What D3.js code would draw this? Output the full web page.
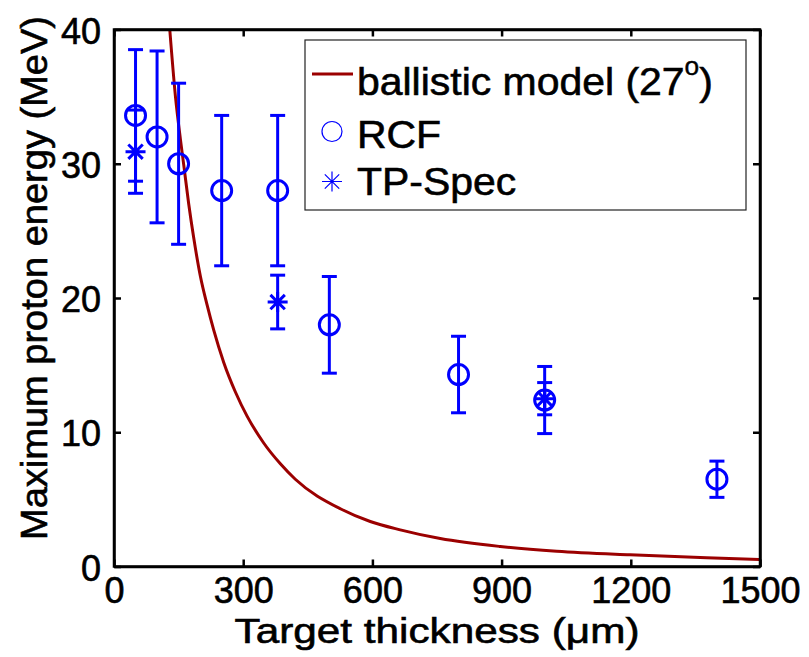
<!DOCTYPE html>
<html>
<head>
<meta charset="utf-8">
<script src="https://cdn.jsdelivr.net/npm/d3@7/dist/d3.min.js"></script>
<style>
  html, body { margin: 0; padding: 0; background: #fff; }
  svg { display: block; font-family: "Liberation Sans", Arial, Helvetica, sans-serif; }
</style>
</head>
<body>
<svg id="chart" width="809" height="657"></svg>
<script>
// ---- data ----
const xTicks = [0, 300, 600, 900, 1200, 1500];
const yTicks = [0, 10, 20, 30, 40];

// RCF measurements (circles) with symmetric error bars
const rcfThickness = [50, 100, 150, 250, 380, 500, 800, 1000, 1400];
const rcfEnergy    = [33.6, 32.0, 30.0, 28.0, 28.0, 18.0, 14.3, 12.4, 6.5];
const rcfError     = [4.9, 6.4, 6.0, 5.6, 5.6, 3.6, 2.85, 2.5, 1.35];

// TP-Spec measurements (asterisks) with symmetric error bars
const tpThickness = [50, 380, 1000];
const tpEnergy    = [30.9, 19.7, 12.5];
const tpError     = [3.1, 2.0, 1.2];

// Ballistic model (27 deg) curve
const modelThickness = [129.5, 142.7, 154.3, 162, 173.5, 185, 200.7, 216, 231.6, 254.8, 281.9, 309, 347.6, 386.3, 421, 525.5, 595, 664.7, 757.5, 896.8, 1028, 1198, 1376, 1500];
const modelEnergy    = [40.0, 35.0, 31.8, 29.9, 27.0, 24.5, 21.6, 19.5, 17.6, 15.2, 13.0, 11.2, 9.2, 7.65, 6.5, 4.3, 3.35, 2.73, 2.08, 1.49, 1.14, 0.87, 0.65, 0.52];

const legendLabels = ["ballistic model (27", "RCF", "TP-Spec"];

// ---- layout ----
const svg = d3.select("#chart");
const L = 114, R = 760, T = 29.5, B = 566.5;
const x = d3.scaleLinear().domain([0, 1500]).range([L, R]);
const y = d3.scaleLinear().domain([0, 40]).range([B, T]);
const blue = "#0000ff", red = "#9b0000";
const textStroke = 0.6;

svg.append("rect").attr("width", 809).attr("height", 657).attr("fill", "#fff");

svg.append("clipPath").attr("id", "plotclip")
  .append("rect").attr("x", L).attr("y", T).attr("width", R - L).attr("height", B - T);

// ---- model curve ----
const model = modelThickness.map((d, i) => [d, modelEnergy[i]]);
svg.append("path")
  .datum(model)
  .attr("clip-path", "url(#plotclip)")
  .attr("fill", "none")
  .attr("stroke", red)
  .attr("stroke-width", 3)
  .attr("d", d3.line().x(d => x(d[0])).y(d => y(d[1])).curve(d3.curveMonotoneX));

// ---- error bars ----
function errorBars(xs, ys, es) {
  const g = svg.append("g").attr("stroke", blue).attr("stroke-width", 3).attr("fill", "none");
  xs.forEach((xv, i) => {
    const cx = x(xv), top = y(ys[i] + es[i]), bot = y(ys[i] - es[i]);
    g.append("line").attr("x1", cx).attr("x2", cx).attr("y1", top).attr("y2", bot);
    g.append("line").attr("x1", cx - 7.5).attr("x2", cx + 7.5).attr("y1", top).attr("y2", top);
    g.append("line").attr("x1", cx - 7.5).attr("x2", cx + 7.5).attr("y1", bot).attr("y2", bot);
  });
}
errorBars(rcfThickness, rcfEnergy, rcfError);
errorBars(tpThickness, tpEnergy, tpError);

// ---- markers ----
svg.append("g").selectAll("circle")
  .data(rcfThickness.map((d, i) => [d, rcfEnergy[i]]))
  .join("circle")
  .attr("cx", d => x(d[0])).attr("cy", d => y(d[1])).attr("r", 10)
  .attr("fill", "none").attr("stroke", blue).attr("stroke-width", 3);

function star(g, cx, cy, r, sw) {
  const d = r * 0.72;
  const p = `M${cx - r},${cy}L${cx + r},${cy}M${cx},${cy - r}L${cx},${cy + r}` +
            `M${cx - d},${cy - d}L${cx + d},${cy + d}M${cx - d},${cy + d}L${cx + d},${cy - d}`;
  g.append("path").attr("d", p).attr("stroke", blue).attr("stroke-width", sw).attr("fill", "none");
}
const starG = svg.append("g");
tpThickness.forEach((d, i) => star(starG, x(d), y(tpEnergy[i]), 10, 3));

// ---- axes ----
const fs = 36;
const axB = svg.append("g").attr("transform", `translate(0,${B})`)
  .call(d3.axisBottom(x).tickValues(xTicks).tickSizeInner(-7).tickSizeOuter(0).tickPadding(11).tickFormat(d3.format("d")));
const axL = svg.append("g").attr("transform", `translate(${L},0)`)
  .call(d3.axisLeft(y).tickValues(yTicks).tickSizeInner(-7).tickSizeOuter(0).tickPadding(13).tickFormat(d3.format("d")));
const axT = svg.append("g").attr("transform", `translate(0,${T})`)
  .call(d3.axisTop(x).tickValues(xTicks).tickSizeInner(-7).tickSizeOuter(0).tickFormat(""));
const axR = svg.append("g").attr("transform", `translate(${R},0)`)
  .call(d3.axisRight(y).tickValues(yTicks).tickSizeInner(-7).tickSizeOuter(0).tickFormat(""));
[axB, axL, axT, axR].forEach(a => {
  a.selectAll(".domain").attr("stroke", "#000").attr("stroke-width", 2.5);
  a.selectAll(".tick line").attr("stroke", "#000").attr("stroke-width", 2.5);
  a.selectAll("text").attr("font-size", fs).attr("font-family", "Liberation Sans, Arial, sans-serif")
    .attr("fill", "#000").attr("stroke", "#000").attr("stroke-width", textStroke);
});
axL.selectAll("text").attr("dy", "0.38em");
svg.append("rect").attr("x", L).attr("y", T).attr("width", R - L).attr("height", B - T)
  .attr("fill", "none").attr("stroke", "#000").attr("stroke-width", 2.5);

// ---- axis titles ----
svg.append("text")
  .attr("x", (L + R) / 2).attr("y", 643)
  .attr("text-anchor", "middle").attr("font-size", 35)
  .attr("stroke", "#000").attr("stroke-width", textStroke)
  .attr("textLength", 405).attr("lengthAdjust", "spacingAndGlyphs")
  .text("Target thickness (\u03bcm)");
svg.append("text")
  .attr("transform", "translate(47,278) rotate(-90)")
  .attr("text-anchor", "middle").attr("font-size", 37)
  .attr("stroke", "#000").attr("stroke-width", textStroke)
  .attr("textLength", 524).attr("lengthAdjust", "spacingAndGlyphs")
  .text("Maximum proton energy (MeV)");

// ---- legend ----
const lg = svg.append("g");
lg.append("rect").attr("x", 305).attr("y", 40).attr("width", 441).attr("height", 170)
  .attr("fill", "#fff").attr("stroke", "#222").attr("stroke-width", 1.2);
lg.append("line").attr("x1", 312).attr("x2", 353).attr("y1", 74).attr("y2", 74)
  .attr("stroke", red).attr("stroke-width", 3);
lg.append("circle").attr("cx", 332).attr("cy", 131.5).attr("r", 10)
  .attr("fill", "none").attr("stroke", blue).attr("stroke-width", 1.2);
star(lg, 332, 181.5, 10, 1.2);

const lgText = (tx, ty) => lg.append("text")
  .attr("transform", `translate(${tx},${ty}) scale(1.05,1)`)
  .attr("font-size", 39).attr("stroke", "#000").attr("stroke-width", textStroke);
const t1 = lgText(357, 95);
t1.append("tspan").text(legendLabels[0]);
t1.append("tspan").attr("font-size", 25).attr("stroke-width", 0.4).attr("dy", -20).text("o");
t1.append("tspan").attr("dy", 20).text(")");
lgText(357, 147.5).text(legendLabels[1]);
lgText(357, 195).text(legendLabels[2]);
</script>
</body>
</html>
